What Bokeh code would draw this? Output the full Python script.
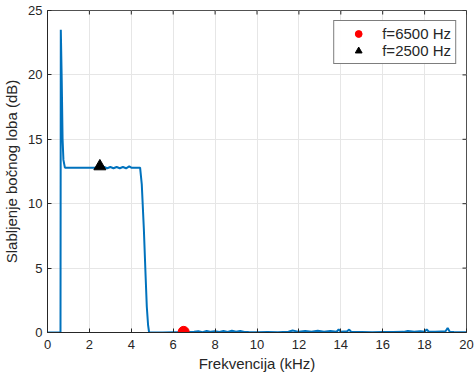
from bokeh.plotting import figure
from bokeh.models import Legend, LegendItem, FixedTicker
from bokeh.embed import file_html
from bokeh.resources import INLINE

# Frequency (kHz) and side-lobe attenuation (dB)
freq = [0.0, 0.62, 0.635, 0.68, 0.72, 0.76, 0.83, 0.90, 1.5, 2.0, 2.5, 2.7, 2.85, 3.0, 3.15, 3.3,
        3.45, 3.6, 3.75, 3.9, 4.0, 4.2, 4.42, 4.5, 4.6, 4.68, 4.74, 4.80, 4.85, 5.5, 6.0, 6.5,
        7.0, 7.2, 7.4, 7.6, 7.8, 8.0, 8.2, 8.4, 8.6, 8.8, 9.0, 9.2, 9.4, 9.6, 10.0, 10.5, 11.0,
        11.5, 11.7, 12.0, 12.3, 12.6, 12.9, 13.2, 13.5, 13.8, 13.9, 14.0, 14.3, 14.4, 14.5,
        15.0, 15.5, 16.0, 16.5, 17.0, 17.2, 17.5, 17.8, 18.0, 18.1, 18.2, 18.5, 18.8, 19.0,
        19.1, 19.2, 19.4, 20.0]
atten = [0.0, 0.0, 23.5, 19.5, 15.0, 13.4, 12.8, 12.8, 12.8, 12.8, 12.8, 12.85, 12.75, 12.85,
         12.75, 12.85, 12.75, 12.85, 12.75, 12.9, 12.8, 12.8, 12.8, 11.5, 8.0, 4.5, 2.0, 0.6,
         0.0, 0.0, 0.02, 0.03, 0.05, 0.1, 0.03, 0.12, 0.05, 0.1, 0.04, 0.12, 0.05, 0.14, 0.06,
         0.12, 0.04, 0.03, 0.02, 0.03, 0.02, 0.06, 0.15, 0.05, 0.12, 0.06, 0.14, 0.05, 0.12,
         0.06, 0.25, 0.05, 0.1, 0.22, 0.04, 0.03, 0.02, 0.03, 0.04, 0.05, 0.12, 0.05, 0.1,
         0.06, 0.25, 0.06, 0.05, 0.08, 0.1, 0.35, 0.06, 0.03, 0.02]

mark1_x, mark1_y = [6.5], [0.05]
mark2_x, mark2_y = [2.5], [12.9]
legend_labels = ["f=6500 Hz", "f=2500 Hz"]

xticks = [0, 2, 4, 6, 8, 10, 12, 14, 16, 18, 20]
yticks = [0, 5, 10, 15, 20, 25]

FONT = "Liberation Sans"
TXT = "#262626"
XMIN, XMAX, YMIN, YMAX = 0, 20, 0, 25

p = figure(frame_width=419, frame_height=322, x_range=(XMIN, XMAX), y_range=(YMIN, YMAX),
           output_backend="svg", toolbar_location=None,
           min_border_left=47, min_border_right=9, min_border_top=10, min_border_bottom=44)
p.background_fill_color = "white"
p.border_fill_color = "white"
p.outline_line_color = "#262626"
p.outline_line_width = 1
p.outline_line_alpha = 0.8

p.xgrid.grid_line_color = "#e6e6e6"
p.ygrid.grid_line_color = "#e6e6e6"

# box ticks on top and right edges (MATLAB style), placed from the tick lists
tick_dx = (XMAX - XMIN) * 4 / 419
tick_dy = (YMAX - YMIN) * 4 / 322
p.segment(x0=xticks, x1=xticks, y0=[YMAX] * len(xticks), y1=[YMAX - tick_dy] * len(xticks),
          line_color="#262626", line_width=1)
p.segment(x0=[XMAX] * len(yticks), x1=[XMAX - tick_dx] * len(yticks), y0=yticks, y1=yticks,
          line_color="#262626", line_width=1)

p.line(freq, atten, line_color="#0072BD", line_width=2)
r1 = p.scatter(mark1_x, mark1_y, marker="circle", size=11, fill_color="#FF0000", line_color="#FF0000")
r2 = p.scatter(mark2_x, mark2_y, marker="triangle", size=12, fill_color="black", line_color="black")

legend = Legend(items=[LegendItem(label=legend_labels[0], renderers=[r1]),
                       LegendItem(label=legend_labels[1], renderers=[r2])],
                location="top_right")
legend.label_text_font = FONT
legend.label_text_font_size = "15px"
legend.label_text_color = TXT
legend.border_line_color = "#262626"
legend.border_line_alpha = 0.6
legend.margin = 10
legend.padding = 4
legend.spacing = 0
legend.glyph_width = 40
legend.glyph_height = 17
legend.label_standoff = 4
legend.label_height = 17
p.add_layout(legend)

for ax in (p.xaxis[0], p.yaxis[0]):
    ax.axis_label_text_font = FONT
    ax.axis_label_text_font_style = "normal"
    ax.axis_label_text_font_size = "15px"
    ax.axis_label_text_color = TXT
    ax.major_label_text_font = FONT
    ax.major_label_text_font_size = "13px"
    ax.major_label_text_color = TXT
    ax.major_tick_in = 4
    ax.major_tick_out = 0
    ax.minor_tick_in = 0
    ax.minor_tick_out = 0
    ax.axis_line_color = "#262626"
    ax.major_tick_line_color = "#262626"

p.xaxis.ticker = FixedTicker(ticks=xticks)
p.yaxis.ticker = FixedTicker(ticks=yticks)
p.xaxis.axis_label = "Frekvencija (kHz)"
p.yaxis.axis_label = "Slabljenje bočnog loba (dB)"
p.xaxis.axis_label_standoff = 3
p.yaxis.axis_label_standoff = 5
p.xaxis.major_label_standoff = 7
p.yaxis.major_label_standoff = 5

open("out.html", "w").write(file_html(p, INLINE))
